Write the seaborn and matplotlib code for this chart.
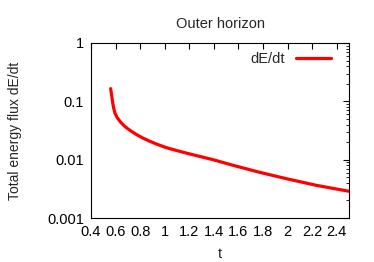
import seaborn as sns
import pandas as pd
import matplotlib.pyplot as plt
from matplotlib.ticker import FuncFormatter, LogLocator, NullFormatter

# values
t = [0.560, 0.563, 0.570, 0.577, 0.585, 0.595, 0.612, 0.636, 0.662, 0.691, 0.730,
     0.772, 0.820, 0.880, 0.945, 1.016, 1.100, 1.192, 1.290, 1.393, 1.556, 1.773, 1.990,
     2.234, 2.5]
dEdt = [0.165, 0.150, 0.118, 0.0936, 0.076, 0.063, 0.053, 0.0453, 0.0395, 0.0349, 0.0305,
        0.0268, 0.0236, 0.0206, 0.0181, 0.0160, 0.0143, 0.0127, 0.0113, 0.0100, 0.0080,
        0.00607, 0.00472, 0.00363, 0.00287]

data = pd.DataFrame({"t": t, "dE/dt": dEdt})

sns.set_style("white")
plt.rcParams['font.family'] = ['Liberation Sans', 'DejaVu Sans']

fig = plt.figure(figsize=(3.74, 2.62), dpi=100)
ax = fig.add_axes([91/374, 1 - 218/262, 258/374, 175/262])

sns.lineplot(data=data, x="t", y="dE/dt", color="red", linewidth=2.3, label="dE/dt", ax=ax)

ax.set_yscale("log")
ax.set_xlim(0.4, 2.5)
ax.set_ylim(0.001, 1)
ax.set_xticks([0.4, 0.6, 0.8, 1, 1.2, 1.4, 1.6, 1.8, 2, 2.2, 2.4])
ax.xaxis.set_major_formatter(FuncFormatter(lambda v, p: "%g" % v))
ax.yaxis.set_major_locator(LogLocator(base=10, numticks=10))
ax.yaxis.set_minor_locator(LogLocator(base=10, subs=range(2, 10), numticks=20))
ax.yaxis.set_major_formatter(FuncFormatter(lambda v, p: "%g" % v))
ax.yaxis.set_minor_formatter(NullFormatter())
ax.tick_params(which="both", direction="in", top=True, right=True, labelsize=10.5, colors="black")
ax.tick_params(which="major", length=4, width=0.8, pad=5)
ax.tick_params(which="minor", length=2, width=0.6)
for s in ax.spines.values():
    s.set_color("black")
    s.set_linewidth(0.8)

ax.set_xlabel("t", fontsize=10.5, labelpad=5.5)
ax.set_ylabel("Total energy flux dE/dt", fontsize=10, labelpad=18)
ax.set_title("Outer horizon", fontsize=10.5, pad=11)
ax.legend(loc="upper right", frameon=False, markerfirst=False, fontsize=10.5,
          handlelength=2.4, borderaxespad=0.2, bbox_to_anchor=(0.965, 1.0))

fig.savefig("out.png", dpi=100)
